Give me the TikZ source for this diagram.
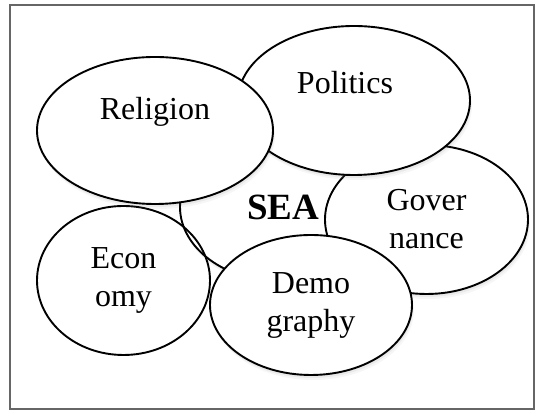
\documentclass[tikz,border=0pt]{standalone}
\usepackage{fontspec}
\setmainfont{Liberation Serif}
\usetikzlibrary{shapes.geometric, shadows}

\tikzset{
  frame/.style={draw=black!60, line width=1.2pt},
  ring/.style={ellipse, draw=black, line width=1.9pt, inner sep=0pt, align=center,
    font=\fontsize{32}{38}\selectfont},
  bubble/.style={ring, fill=white,
    drop shadow={opacity=0.10, shadow xshift=1pt, shadow yshift=-3pt},
    drop shadow={opacity=0.07, shadow xshift=2pt, shadow yshift=-5pt}},
  every label/.style={font=\fontsize{32}{38}\selectfont}
}

\begin{document}
\begin{tikzpicture}[x=10pt, y=10pt]
          \useasboundingbox (0,0) rectangle (54.2,41.1);
          \draw [frame] (1.0,0.2) rectangle (53.4,40.6); % Draws the frame

          % the SEA bubble sits at the back
          \node [bubble, minimum width=206pt, minimum height=150pt, font=\bfseries\fontsize{37}{42}\selectfont] (sea) at (28.3,20.4) {SEA};

          \node [ring, minimum width=173pt, minimum height=149pt] (economy) at (12.35,13.05) {Econ\\omy}; % open ring, both outlines show
          \node [bubble, minimum width=203pt, minimum height=149pt] (governance) at (42.65,19.15) {Gover\\nance};
          \node [bubble, minimum width=232pt, minimum height=149pt, label={[xshift=-9pt, yshift=17.5pt]center:Politics}] (politics) at (35.4,31.05) {};
          \node [bubble, minimum width=236pt, minimum height=147pt, label={[yshift=18.5pt]center:Religion}] (religion) at (15.5,28.05) {};
          \node [bubble, minimum width=202pt, minimum height=140pt] (demography) at (31.1,10.6) {Demo\\graphy};
          % \node [bubble] (culture) at (45,6) {Culture};
        \end{tikzpicture}
\end{document}
